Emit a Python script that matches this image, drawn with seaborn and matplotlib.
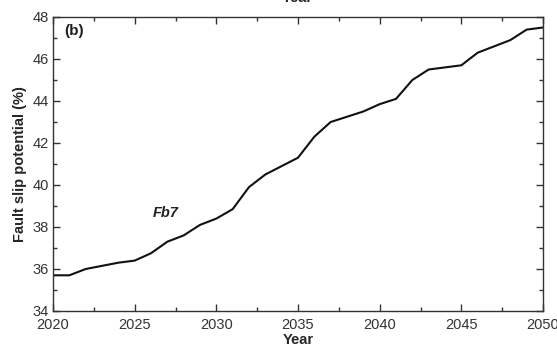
import matplotlib
matplotlib.use("Agg")
import matplotlib.pyplot as plt
from matplotlib.ticker import MultipleLocator
import numpy as np
import pandas as pd
import seaborn as sns

years = list(range(2020, 2051))
slip_potential = [
    35.7, 35.7, 36.0, 36.15, 36.3, 36.4, 36.75, 37.3, 37.6, 38.1,
    38.4, 38.85, 39.9, 40.5, 40.9, 41.3, 42.3, 43.0, 43.25, 43.5,
    43.85, 44.1, 45.0, 45.5, 45.6, 45.7, 46.3, 46.6, 46.9, 47.4,
    47.5,
]
x_ticks = [2020, 2025, 2030, 2035, 2040, 2045, 2050]
y_ticks = [34, 36, 38, 40, 42, 44, 46, 48]

df = pd.DataFrame({"Year": years, "FSP": slip_potential})

sns.set_theme(style="ticks")
plt.rcParams["font.family"] = ["Liberation Sans", "DejaVu Sans"]

fig = plt.figure(figsize=(5.57, 3.47), dpi=100)
ax = fig.add_axes([53 / 557, 1 - 311 / 347, 490 / 557, 294 / 347])

sns.lineplot(data=df, x="Year", y="FSP", ax=ax, color="#111111", linewidth=1.5)

ax.set_xlim(2020, 2050)
ax.set_ylim(34, 48)
ax.set_xticks(x_ticks)
ax.set_yticks(y_ticks)
ax.xaxis.set_minor_locator(MultipleLocator(2.5))
ax.yaxis.set_minor_locator(MultipleLocator(1))
ax.tick_params(which="both", direction="in", top=True, right=True,
               labelsize=10.5, labelcolor="#333333", color="#333333")
ax.tick_params(axis="x", which="major", pad=5)
ax.tick_params(axis="y", which="major", pad=3)
ax.tick_params(which="major", length=5, width=1)
ax.tick_params(which="minor", length=3, width=1)
for s in ax.spines.values():
    s.set_linewidth(1.0)
    s.set_color("#333333")

ax.set_xlabel("Year", fontsize=10.5, fontweight="bold", labelpad=1)
ax.set_ylabel("Fault slip potential (%)", fontsize=10.5, fontweight="bold", labelpad=4)

ax.text(0.022, 0.975, "(b)", transform=ax.transAxes, fontsize=11,
        fontweight="bold", va="top", ha="left", color="#222222")
ax.text(2026.9, 38.67, "Fb7", fontsize=10.5, fontweight="bold",
        fontstyle="italic", ha="center", va="center", color="#222222")

# x-axis title of the panel above, cut at the top edge
fig.text(297 / 557, 1 + 2 / 347, "Year", fontsize=10.5, fontweight="bold",
         ha="center", va="center")

fig.savefig("out.png", dpi=100)
